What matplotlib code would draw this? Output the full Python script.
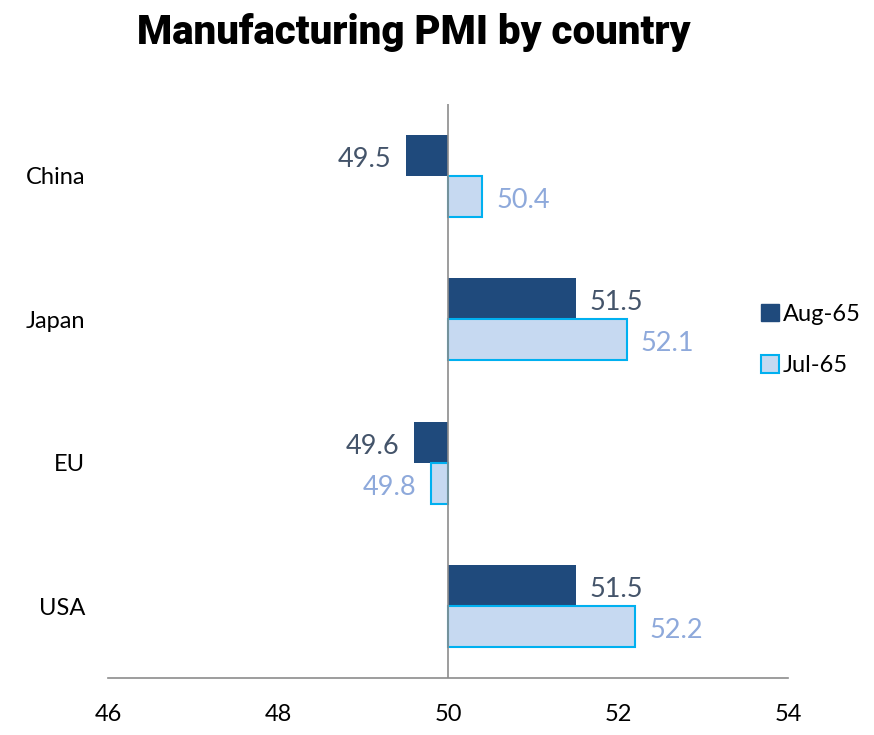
import numpy as np
from matplotlib import pyplot as plt
from matplotlib.patches import Patch

countries = ["China", "Japan", "EU", "USA"]
aug_values = [49.5, 51.5, 49.6, 51.5]
jul_values = [50.4, 52.1, 49.8, 52.2]
series_names = ["Aug-65", "Jul-65"]
x_ticks = [46, 48, 50, 52, 54]

base = 50
aug_color = "#1F4A7C"
jul_fill = "#C6D9F1"
jul_edge = "#00B0F0"
aug_text = "#44546A"
jul_text = "#8EA9DB"

plt.rcParams['font.family'] = ['Lato', 'DejaVu Sans']

fig = plt.figure(figsize=(8.74, 7.35), dpi=100)
ax = fig.add_axes([108 / 874, 57 / 735, 680 / 874, 574 / 735])

y = np.arange(len(countries))
h = 0.285

aug_w = [v - base for v in aug_values]
jul_w = [v - base for v in jul_values]
ax.barh(y - h / 2, aug_w, height=h, left=base, color=aug_color, zorder=2)
ax.barh(y + h / 2, jul_w, height=h, left=base, color=jul_fill,
        edgecolor=jul_edge, linewidth=1.5, zorder=2)

# value labels sit just past the end of each bar
for i in range(len(countries)):
    for v, off, col in ((aug_values[i], -h / 2, aug_text), (jul_values[i], h / 2, jul_text)):
        ty = y[i] + off + 0.028
        if v >= base:
            ax.text(v + 0.17, ty, f"{v:.1f}", color=col, fontsize=19.5,
                    ha="left", va="center")
        else:
            ax.text(v - 0.17, ty, f"{v:.1f}", color=col, fontsize=19.5,
                    ha="right", va="center")

ax.axvline(base, color="#8C8C8C", linewidth=1.2, zorder=3)

ax.set_xlim(46, 54)
ax.set_ylim(3.5, -0.5)
ax.set_xticks(x_ticks)
ax.set_yticks(y)
ax.set_yticklabels(countries)
ax.tick_params(axis="both", length=0, labelsize=17)
ax.tick_params(axis="y", pad=16.5)
ax.tick_params(axis="x", pad=19)
for s in ("top", "right", "left"):
    ax.spines[s].set_visible(False)
ax.spines["bottom"].set_color("#8C8C8C")
ax.spines["bottom"].set_linewidth(1.2)

handles = [Patch(facecolor=aug_color, edgecolor=aug_color),
           Patch(facecolor=jul_fill, edgecolor=jul_edge, linewidth=1.5)]
fig.legend(handles, series_names, loc="center left", bbox_to_anchor=(740 / 874, 1 - 340 / 735),
           frameon=False, fontsize=17, handlelength=0.75, handleheight=0.75,
           handletextpad=0.15, labelspacing=1.3)

fig.text(414 / 874, 1 - 32 / 735, "Manufacturing PMI by country",
         family=["Roboto", "DejaVu Sans"], fontweight="black",
         fontsize=29, ha="center", va="center")

fig.savefig("out.png", dpi=100)
